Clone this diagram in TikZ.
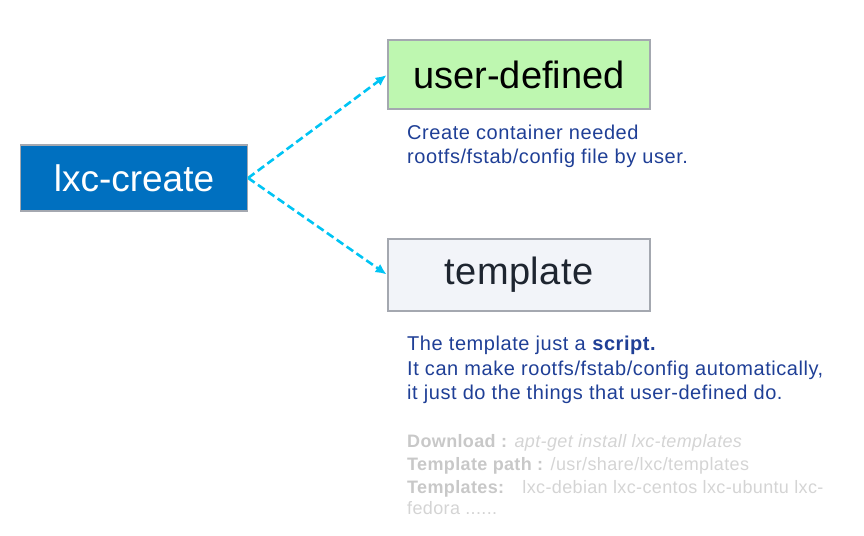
\documentclass[tikz,border=0pt]{standalone}
\usepackage{fontspec}
\setmainfont{Liberation Sans}
\usetikzlibrary{arrows.meta}
\definecolor{boxblue}{HTML}{0070C0}
\definecolor{boxgreen}{HTML}{BEF7B0}
\definecolor{boxgray}{HTML}{F2F4F9}
\definecolor{edgegray}{HTML}{A4A8B0}
\definecolor{arrowcyan}{HTML}{00C4F4}
\definecolor{descblue}{HTML}{1F3F96}
\definecolor{lightgray}{HTML}{D4D4D4}
\definecolor{boldgray}{HTML}{C8C8C8}
\definecolor{titledark}{HTML}{1E2530}
\tikzset{
  bigbox/.style={draw=edgegray, line width=1.2pt, minimum height=#1, inner sep=0pt, font=\fontsize{38}{40}\selectfont},
  dasharrow/.style={draw=arrowcyan, line width=2.6pt, dash pattern=on 8pt off 4pt, -{Latex[length=11pt,width=10pt]}, shorten >=1pt},
  desc/.style={anchor=base west, inner sep=0pt, text=descblue, font=\fontsize{20}{24}\selectfont\addfontfeature{LetterSpace=2.8}},
  grayline/.style={anchor=base west, inner sep=0pt, text=lightgray, font=\fontsize{18}{22}\selectfont\addfontfeature{LetterSpace=2}}
}
\newcommand{\gb}[1]{\textcolor{boldgray}{\textbf{#1}}}
\begin{document}
\begin{tikzpicture}[x=1pt,y=-1pt]
\useasboundingbox (0,0) rectangle (864,535);
\node[bigbox=66pt, minimum width=227pt, fill=boxblue, text=white, font=\fontsize{37}{40}\selectfont] (create) at (134,178) {lxc-create};
\node[bigbox=69pt, minimum width=262pt, fill=boxgreen, text=black] (user) at (519,74.5) {user-defined};
\node[bigbox=72pt, minimum width=262pt, fill=boxgray, text=titledark, font=\fontsize{38}{40}\selectfont\addfontfeature{LetterSpace=1}] (tmpl) at (519,275) {template};
\coordinate (start) at (create.east);
\draw[dasharrow] (start) -- (user.west);
\draw[dasharrow] (start) -- (tmpl.west);
\node[desc] (u1) at (407,139.3) {Create container needed};
\node[desc] (u2) at (407,163.5) {rootfs/fstab/config file by user.};
\node[desc] (t1) at (407,350) {The template just a \textbf{script.}};
\node[desc] (t2) at (407,375) {It can make rootfs/fstab/config automatically,};
\node[desc] (t3) at (407,399) {it just do the things that user-defined do.};
\node[grayline] (g1) at (407,447) {\gb{Download :} \textit{apt-get install lxc-templates}};
\node[grayline] (g2) at (407,470) {\gb{Template path :} /usr/share/lxc/templates};
\node[grayline] (g3) at (407,493) {\gb{Templates:}\quad lxc-debian lxc-centos lxc-ubuntu lxc-};
\node[grayline] (g4) at (407,514) {fedora ......};
\end{tikzpicture}
\end{document}
